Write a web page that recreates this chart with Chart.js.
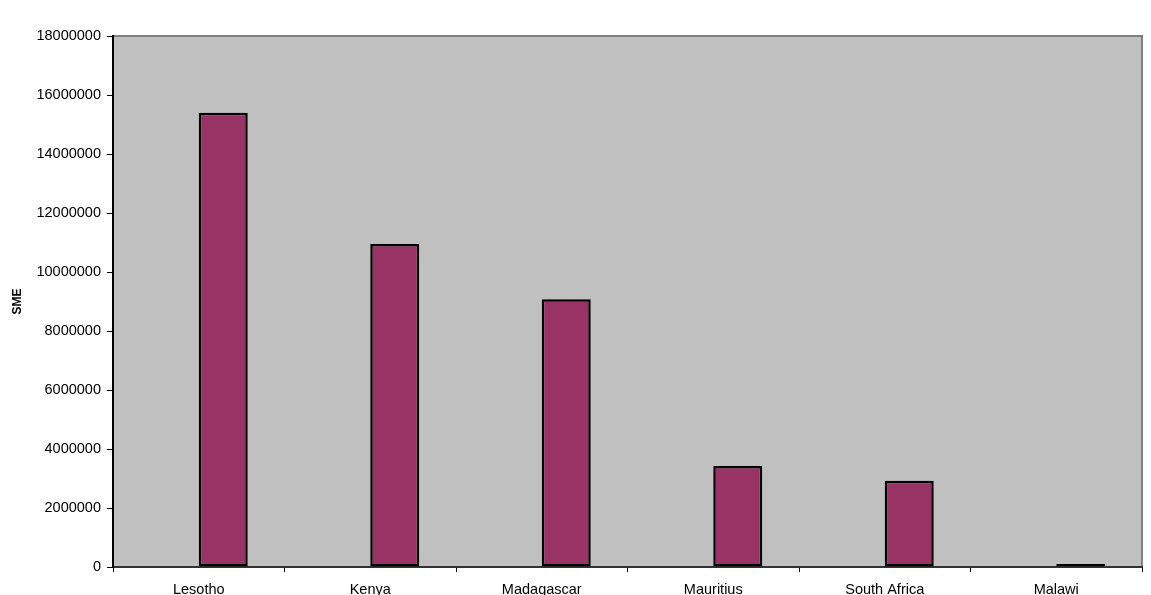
<!DOCTYPE html>
<html>
<head>
<meta charset="utf-8">
<script src="https://cdn.jsdelivr.net/npm/chart.js@4.4.1/dist/chart.umd.min.js"></script>
<style>
  html, body { margin: 0; padding: 0; background: #ffffff; }
  #wrap { width: 1151px; height: 595px; }
</style>
</head>
<body>
<div id="wrap"><canvas id="c" width="1151" height="595"></canvas></div>
<script>
// Countries along the category axis
const countries = ['Lesotho', 'Kenya', 'Madagascar', 'Mauritius', 'South Africa', 'Malawi'];
// Empty leading series (keeps the two-bar slot layout per country)
const blankSeries = [null, null, null, null, null, null];
// Number of SMEs per country
const smeValues = [15400000, 10950000, 9080000, 3420000, 2920000, 0];
// Value axis range and step
const yMin = 0;
const yMax = 18000000;
const yStep = 2000000;

const plotBackground = {
  id: 'plotBackground',
  beforeDraw(chart) {
    const { ctx, chartArea: a } = chart;
    ctx.save();
    ctx.fillStyle = '#c0c0c0';
    ctx.fillRect(a.left, a.top, a.right - a.left, a.bottom - a.top);
    ctx.strokeStyle = '#808080';
    ctx.lineWidth = 2;
    ctx.beginPath();
    ctx.moveTo(a.left, a.top);
    ctx.lineTo(a.right, a.top);
    ctx.lineTo(a.right, a.bottom);
    ctx.stroke();
    ctx.restore();
  }
};

new Chart(document.getElementById('c'), {
  type: 'bar',
  data: {
    labels: countries,
    datasets: [
      {
        label: '',
        data: blankSeries,
        backgroundColor: '#993366',
        borderColor: '#000000',
        borderWidth: 2
      },
      {
        label: 'SME',
        data: smeValues,
        backgroundColor: '#993366',
        borderColor: '#000000',
        borderWidth: 2.5,
        borderSkipped: false,
        minBarLength: 3
      }
    ]
  },
  plugins: [plotBackground],
  options: {
    responsive: false,
    animation: false,
    layout: { padding: { top: 36, right: 9, bottom: 0, left: 0 } },
    plugins: {
      legend: { display: false },
      tooltip: { enabled: false }
    },
    datasets: {
      bar: { categoryPercentage: 0.5714, barPercentage: 1.0 }
    },
    scales: {
      x: {
        grid: {
          offset: true,
          drawOnChartArea: false,
          drawTicks: true,
          tickLength: 5,
          color: '#000000'
        },
        border: { display: true, color: '#333333', width: 2 },
        ticks: {
          color: '#000000',
          font: { family: 'Liberation Sans, Arial, sans-serif', size: 14.5 },
          padding: 9,
          maxRotation: 0,
          autoSkip: false
        },
        afterFit(scale) { scale.height = 28; }
      },
      y: {
        min: yMin,
        max: yMax,
        grid: {
          drawOnChartArea: false,
          drawTicks: true,
          tickLength: 6,
          color: '#000000'
        },
        border: { display: true, color: '#000000', width: 2 },
        ticks: {
          stepSize: yStep,
          color: '#000000',
          font: { family: 'Liberation Sans, Arial, sans-serif', size: 14.5 },
          padding: 6,
          callback: (v) => String(v)
        },
        title: {
          display: true,
          text: 'SME',
          color: '#000000',
          font: { family: 'Liberation Sans, Arial, sans-serif', size: 12, weight: 'bold' },
          padding: { top: 10, bottom: 0 }
        },
        afterFit(scale) { scale.width = 113; }
      }
    }
  }
});
</script>
</body>
</html>
